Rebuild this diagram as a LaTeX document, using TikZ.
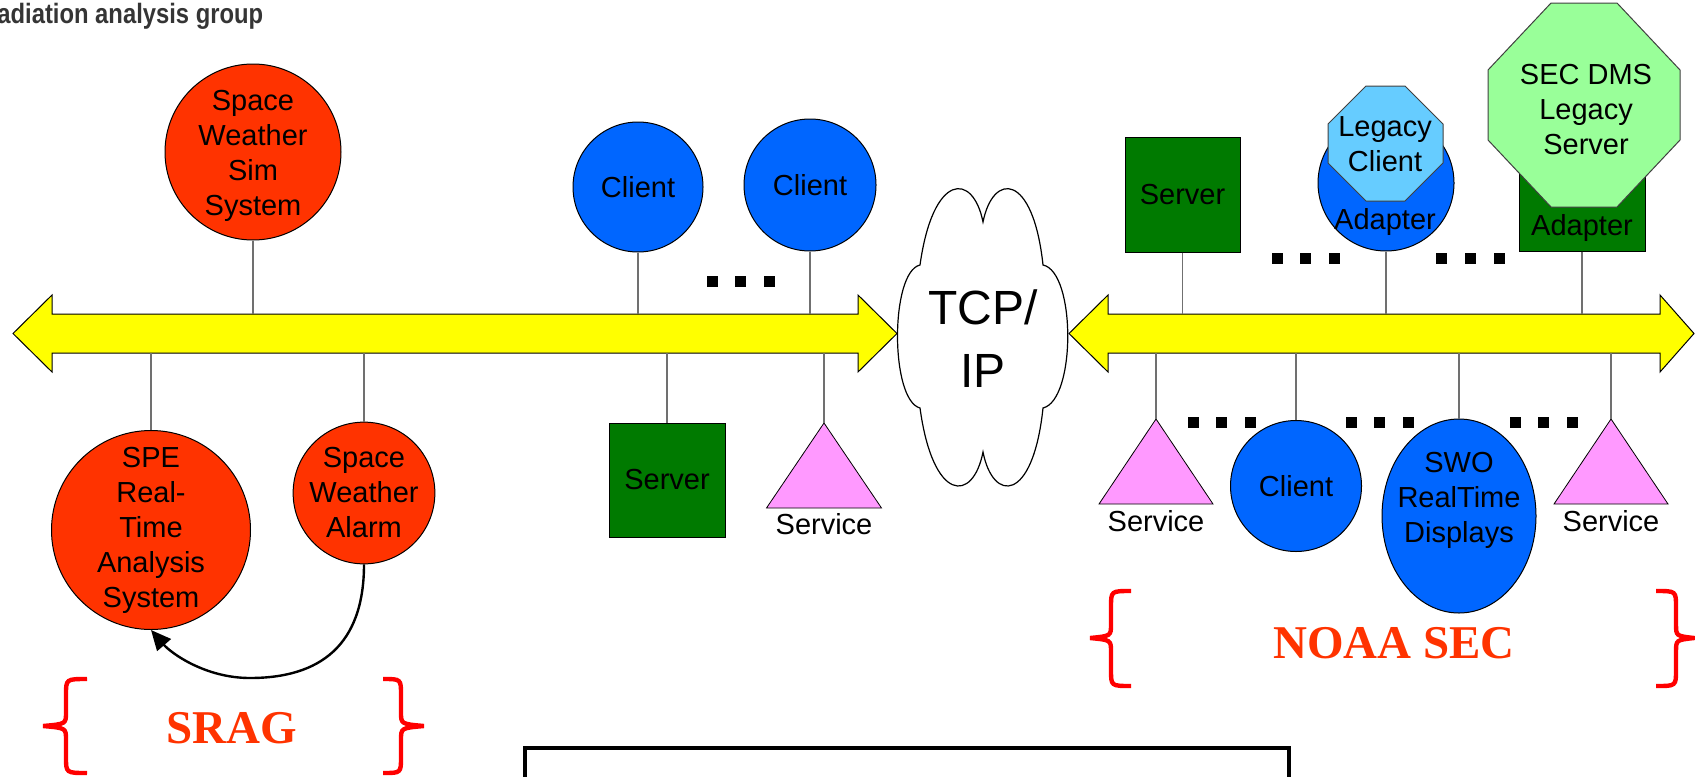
\documentclass[tikz,border=0pt]{standalone}
\usepackage{fontspec}
\setmainfont{Liberation Sans}
\newfontfamily\tnr{Liberation Serif}
\usetikzlibrary{shapes.geometric,arrows.meta}
\definecolor{redor}{HTML}{FF3300}
\definecolor{cblue}{HTML}{0066FF}
\definecolor{dgreen}{HTML}{007A00}
\definecolor{svcpink}{HTML}{FF99FF}
\definecolor{lblue}{HTML}{66CCFF}
\definecolor{lgreen}{HTML}{99FF99}
\definecolor{busyellow}{HTML}{FFFF00}
\definecolor{connc}{HTML}{707070}
\definecolor{bracered}{HTML}{FF0000}
\definecolor{titlegray}{HTML}{353535}
\newcommand{\leftbrace}[6]{% T V E A M B
  \draw[brace] (#3,#4) .. controls (#2,#4) .. (#2,#4+16) -- (#2,#5-14) .. controls (#2,#5-2) .. (#1,#5)
    .. controls (#2,#5+2) .. (#2,#5+14) -- (#2,#6-16) .. controls (#2,#6) .. (#3,#6);}
\begin{document}
\begin{tikzpicture}[x=0.5pt,y=-0.5pt,
  every node/.style={font=\fontsize{14.5pt}{17.5pt}\selectfont, inner sep=0pt, align=center},
  rc/.style={circle, draw=black, line width=0.5pt, fill=redor},
  bc/.style={circle, draw=black, line width=0.5pt, fill=cblue},
  sq/.style={rectangle, draw=black, line width=0.5pt, fill=dgreen},
  tri/.style={draw=black, line width=0.4pt, fill=svcpink},
  oct/.style={draw=black!75, line width=0.5pt},
  conn/.style={draw=connc, line width=0.6pt},
  bus/.style={draw=black, line width=0.5pt, fill=busyellow},
  brace/.style={draw=bracered, line width=2.2pt},
  grp/.style={text=redor, font=\tnr\bfseries\fontsize{23.5pt}{28pt}\selectfont},
  cloudst/.style={draw=black, line width=0.6pt, fill=white},
]
\useasboundingbox (0,0) rectangle (1695,776);
\clip (0,0) rectangle (1695,776);

% title
\node[anchor=base west, text=titlegray, font=\bfseries\fontsize{14pt}{16pt}\selectfont] (title) at (-3,23) {\scalebox{0.85}[1]{adiation analysis group}};

% buses
\draw[bus] (13,333.5) -- (52,295) -- (52,314) -- (858,314) -- (858,295) -- (897,333.5) -- (858,372) -- (858,353) -- (52,353) -- (52,372) -- cycle;
\draw[bus] (1069,333.5) -- (1108,295) -- (1108,314) -- (1660,314) -- (1660,295) -- (1694,333.5) -- (1660,372) -- (1660,353) -- (1108,353) -- (1108,372) -- cycle;
\coordinate (bt) at (0,314);
\coordinate (bb) at (0,353);

% cloud
\draw[cloudst] (983,222) .. controls (993,172) and (1033,172) .. (1043,265)
  .. controls (1076,272) and (1076,400) .. (1043,408)
  .. controls (1033,503) and (993,503) .. (983,452)
  .. controls (973,503) and (933,503) .. (920,408)
  .. controls (890,400) and (890,272) .. (920,265)
  .. controls (933,172) and (973,172) .. (983,222) -- cycle;
\node[font=\fontsize{24pt}{31.5pt}\selectfont] (tcp) at (983,339) {TCP/\\IP};

% left group
\node[rc, minimum size=88pt] (sws) at (253,152) {};
\node (swsl) at (253,156) {Space\\Weather\\Sim\\System};
\node[rc, minimum size=99.5pt] (spe) at (151,530) {SPE\\Real-\\Time\\Analysis\\System};
\node[rc, minimum size=66pt] (swa) at (364,493) {Space\\Weather\\Alarm};
\node[bc, minimum size=65pt] (c1) at (638,187) {Client};
\node[bc, minimum size=66pt] (c2) at (810,185) {Client};
\node[sq, minimum width=58pt, minimum height=57pt] (srv1) at (667,480) {Server};
\coordinate (svc1) at (824,423);
\draw[tri] (svc1) -- ++(57.5,85) -- ++(-115,0) -- cycle;
\node (svc1l) at (824,524) {Service};

\draw[conn] (sws.south) -- (sws.south |- bt);
\draw[conn] (c1.south) -- (c1.south |- bt);
\draw[conn] (c2.south) -- (c2.south |- bt);
\draw[conn] (spe.north) -- (spe.north |- bb);
\draw[conn] (swa.north) -- (swa.north |- bb);
\draw[conn] (srv1.north) -- (srv1.north |- bb);
\draw[conn] (svc1) -- (svc1 |- bb);

% curved arrow
\coordinate (cb) at (250,678);
\draw[line width=1.2pt, -{Triangle[length=10pt,width=9pt]}] (swa.south) .. controls +(0,81) and +(70,0) .. (cb) .. controls +(-45,0) and +(20,23) .. (spe.south);

% right group
\node[sq, minimum width=57.5pt, minimum height=57.5pt] (srv2) at (1182.5,194.5) {Server};
\node[sq, minimum size=63pt] (adb) at (1582,188) {};
\draw[oct, fill=lgreen] (1551,3) -- (1617,3) -- (1680,70) -- (1680,140) -- (1617,207) -- (1551,207) -- (1488,140) -- (1488,70) -- cycle;
\node (secl) at (1586,110) {SEC DMS\\Legacy\\Server};
\node (adbl) at (1582,228) {Adapter};

\node[bc, minimum size=68pt] (lca) at (1386,183) {};
\draw[oct, fill=lblue] (1366,86) -- (1405,86) -- (1443,124) -- (1443,163) -- (1405,201) -- (1366,201) -- (1328,163) -- (1328,124) -- cycle;
\node (lcl) at (1385,144) {Legacy\\Client};
\node (lcal) at (1385,222) {Adapter};

\coordinate (svc2) at (1156,419);
\draw[tri] (svc2) -- ++(57,85) -- ++(-114,0) -- cycle;
\node (svc2l) at (1156,521) {Service};
\node[bc, minimum size=65.5pt] (c3) at (1296,486) {Client};
\node[bc, ellipse, minimum width=77pt, minimum height=97pt] (swo) at (1459,516) {};
\node (swol) at (1459,500) {SWO\\RealTime\\Displays};
\coordinate (svc3) at (1611,419);
\draw[tri] (svc3) -- ++(57,85) -- ++(-114,0) -- cycle;
\node (svc3l) at (1611,521) {Service};

\draw[conn] (srv2.south) -- (srv2.south |- bt);
\draw[conn] (lca.south) -- (lca.south |- bt);
\draw[conn] (adb.south) -- (adb.south |- bt);
\draw[conn] (svc2) -- (svc2 |- bb);
\draw[conn] (c3.north) -- (c3.north |- bb);
\draw[conn] (swo.north) -- (swo.north |- bb);
\draw[conn] (svc3) -- (svc3 |- bb);

% ellipsis dots
\foreach \px/\py in {707/276,735/276,764/276,
  1272/253,1300/253,1329/253,1436/253,1465/253,1494/253,
  1188/417,1216/417,1245/417,1346/417,1374/417,1403/417,1510/417,1538/417,1567/417}
  \fill[black] (\px,\py) rectangle ++(11,11);

% braces
\leftbrace{43}{66}{87}{679}{726}{773}
\leftbrace{424}{401}{383}{679}{726}{773}
\leftbrace{1090}{1111}{1131}{591}{638}{686}
\leftbrace{1694}{1676}{1656}{591}{638}{686}
\node[grp] (srag) at (232,728) {SRAG};
\node[grp] (noaa) at (1394,643) {NOAA SEC};

% bottom box
\draw[black, line width=2.2pt] (525,748) rectangle (1289,820);
\end{tikzpicture}
\end{document}
